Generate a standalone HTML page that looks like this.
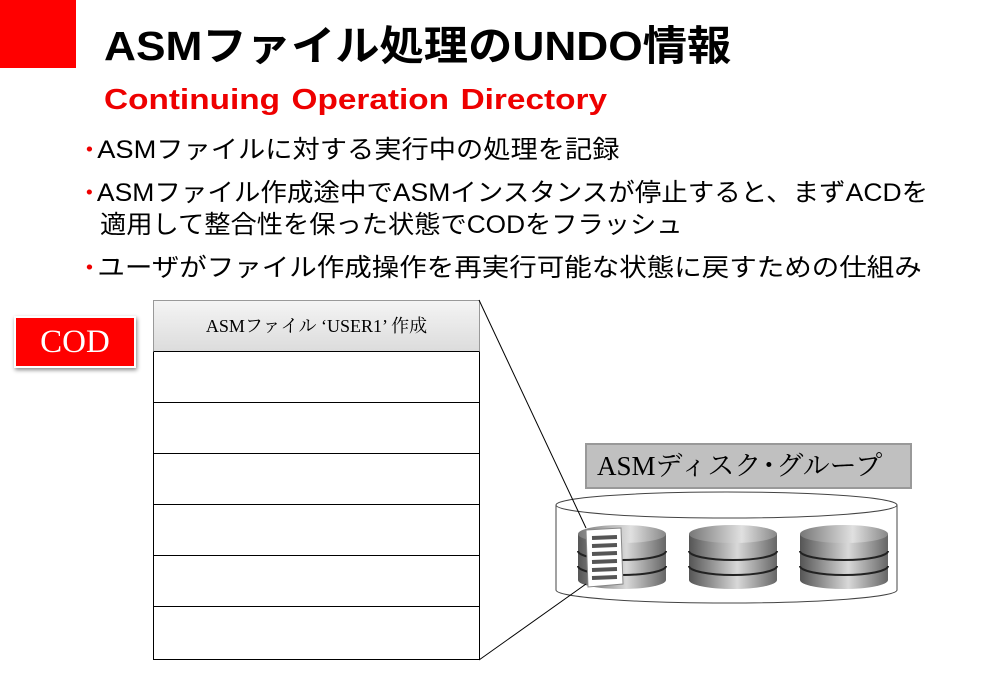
<!DOCTYPE html>
<html><head><meta charset="utf-8"><style>
body{margin:0;width:1006px;height:673px;background:#fff;position:relative;overflow:hidden;font-family:"Liberation Sans","Noto Sans CJK JP",sans-serif}
.a{position:absolute;white-space:nowrap}
.b{font-size:25px;color:#000;left:86px;transform-origin:left center}
.b span{color:#e00;font-size:18px;margin-right:4px;position:relative;top:-3px}
.row{position:absolute;left:153px;width:325px;border:1px solid #000;border-top:none;height:50px}
</style></head><body>
<div class="a" style="left:0;top:0;width:76px;height:68px;background:#f00"></div>
<div class="a" style="left:104px;top:12px;font-size:41px;font-weight:bold;transform:scaleX(1.08);transform-origin:left">ASMファイル処理のUNDO情報</div>
<div class="a" style="left:104px;top:84px;font-size:29px;font-weight:bold;color:#e00;word-spacing:2px;transform:scaleX(1.15);transform-origin:left">Continuing Operation Directory</div>
<div class="a b" style="top:130px;transform:scaleX(1.09)"><span>•</span>ASMファイルに対する実行中の処理を記録</div>
<div class="a b" style="top:173px;transform:scaleX(1.06)"><span>•</span>ASMファイル作成途中でASMインスタンスが停止すると、まずACDを</div>
<div class="a b" style="top:205px;left:100px;transform:scaleX(1.05)">適用して整合性を保った状態でCODをフラッシュ</div>
<div class="a b" style="top:248px;transform:scaleX(1.1)"><span>•</span>ユーザがファイル作成操作を再実行可能な状態に戻すための仕組み</div>
<div class="a" style="left:14px;top:316px;width:118px;height:48px;background:#f00;border:2px solid #fff;box-shadow:1px 2px 4px #888;color:#fff;font-family:'Liberation Serif',serif;font-size:33px;text-align:center;line-height:48px">COD</div>
<div class="a" style="left:153px;top:300px;width:325px;height:50px;border:1px solid #999;border-bottom:1px solid #000;background:linear-gradient(#f4f4f4,#dcdcdc);font-family:'Liberation Serif','Noto Serif CJK SC',serif;font-size:18px;text-align:center;line-height:50px">ASMファイル ‘USER1’ 作成</div>
<div class="row" style="top:352px"></div>
<div class="row" style="top:403px"></div>
<div class="row" style="top:454px"></div>
<div class="row" style="top:505px"></div>
<div class="row" style="top:556px"></div>
<div class="row" style="top:607px;height:52px"></div>
<div class="a" style="left:585px;top:443px;width:313px;height:42px;background:#c0c0c0;border:2px solid #999;font-family:'Liberation Serif','Noto Serif CJK SC',serif;font-size:27px;line-height:42px;padding-left:10px;box-sizing:content-box">ASMディスク<span style="margin:0 -6px">・</span>グループ</div>
<svg class="a" style="left:0;top:0" width="1006" height="673">
<defs><linearGradient id="g" x1="0" x2="1"><stop offset="0" stop-color="#555"/><stop offset=".55" stop-color="#d8d8d8"/><stop offset="1" stop-color="#666"/></linearGradient>
<linearGradient id="t" x1="0" x2="1"><stop offset="0" stop-color="#777"/><stop offset=".6" stop-color="#e0e0e0"/><stop offset="1" stop-color="#888"/></linearGradient></defs>
<path d="M556 505 V590 A170 13 0 0 0 897 590 V505" fill="#fff" stroke="#444"/>
<ellipse cx="726.5" cy="505" rx="170.5" ry="13" fill="#fff" stroke="#444"/>
<g id="d">
<path d="M578 534 V580 A44 9 0 0 0 666 580 V534 Z" fill="url(#g)"/>
<ellipse cx="622" cy="534" rx="44" ry="9" fill="url(#t)"/>
<path d="M578 551 A44 9 0 0 0 666 551 M578 566 A44 9 0 0 0 666 566" fill="none" stroke="#222" stroke-width="2"/>
</g>
<use href="#d" x="111"/><use href="#d" x="222"/>
<polygon points="586,530 621,528 623,584 588,587" fill="#fff" stroke="#888"/>
<g stroke="#555" stroke-width="4"><line x1="592" y1="538" x2="617" y2="537"/><line x1="592" y1="546" x2="617" y2="545"/><line x1="592" y1="554" x2="617" y2="553"/><line x1="592" y1="562" x2="617" y2="561"/><line x1="592" y1="570" x2="617" y2="569"/><line x1="592" y1="578" x2="617" y2="577"/></g>
<line x1="479" y1="300" x2="586" y2="528" stroke="#000"/>
<line x1="479" y1="660" x2="586" y2="584" stroke="#000"/>
</svg>
</body></html>
